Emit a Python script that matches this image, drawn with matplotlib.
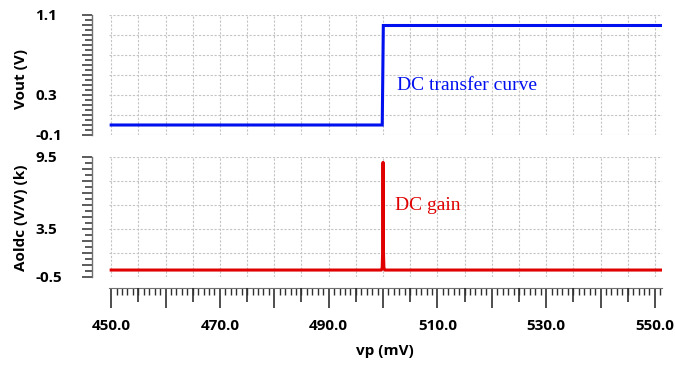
import numpy as np
import matplotlib
matplotlib.use("Agg")
import matplotlib.pyplot as plt
from matplotlib.ticker import FixedLocator, FixedFormatter, MultipleLocator, NullFormatter

# ---- data ----
vp_vout = [450.0, 499.85, 500.05, 551.3]
vout = [0.0, 0.0, 0.995, 0.995]

vp_gain = [450.0, 499.7, 499.85, 499.95, 500.0, 500.05, 500.15, 500.3, 551.3]
gain_k = [0.08, 0.08, 0.3, 2.0, 9.05, 2.0, 0.3, 0.08, 0.08]

x_tick_labels = ["450.0", "470.0", "490.0", "510.0", "530.0", "550.0"]
x_tick_vals = [450, 470, 490, 510, 530, 550]
top_ylabels = {-0.1: "-0.1", 0.3: "0.3", 1.1: "1.1"}
bot_ylabels = {-0.5: "-0.5", 3.5: "3.5", 9.5: "9.5"}

W, H = 675, 365
fig = plt.figure(figsize=(W / 100, H / 100), dpi=100)
px = 72 / 100  # points per pixel

def fx(x):
    return x / W

def fy(y):
    return 1 - y / H

left, right = 109, 662
ax1 = fig.add_axes([fx(left), fy(135), (right - left) / W, 120 / H])
ax2 = fig.add_axes([fx(left), fy(277), (right - left) / W, 120 / H])

xlim = (449.6, 551.3)
grid_kw = dict(color="#c4c4c4", lw=0.8, ls=(0, (2, 1.5)))
tick_font = dict(family="Open Sans", weight="bold", size=11)

def style_y(ax, ylim, major_step, minor_step, labels, ngrid):
    ax.set_xlim(*xlim)
    ax.set_ylim(*ylim)
    for s in ["top", "right", "bottom"]:
        ax.spines[s].set_visible(False)
    ax.spines["left"].set_position(("outward", 17 * px))
    ax.spines["left"].set_color("#707070")
    ax.spines["left"].set_linewidth(1.0)
    majors = list(np.round(np.arange(ylim[0], ylim[1] + 1e-9, major_step), 4))
    ax.yaxis.set_major_locator(FixedLocator(majors))
    lbls = []
    for m in majors:
        key = None
        for k in labels:
            if abs(k - m) < 1e-6:
                key = k
        lbls.append(labels[key] if key is not None else "")
    ax.yaxis.set_major_formatter(FixedFormatter(lbls))
    ax.yaxis.set_minor_locator(MultipleLocator(minor_step))
    ax.tick_params(axis="y", which="major", length=10 * px, width=1.2, color="#404040",
                   pad=(92 - 10 - 35) * px)
    ax.tick_params(axis="y", which="minor", length=7 * px, width=1.2, color="#404040")
    for t in ax.get_yticklabels():
        t.set_ha("left")
        t.set_fontfamily(tick_font["family"])
        t.set_fontweight(tick_font["weight"])
        t.set_fontsize(tick_font["size"])
    # grid
    for g in np.linspace(ylim[0], ylim[1], ngrid + 1):
        ax.axhline(g, zorder=0, **grid_kw)
    for v in np.arange(450, 551, 5):
        ax.axvline(v, zorder=0, **grid_kw)

style_y(ax1, (-0.1, 1.1), 0.1, 0.05, top_ylabels, 6)
style_y(ax2, (-0.5, 9.5), 1.0, 0.5, bot_ylabels, 5)

ax1.tick_params(axis="x", which="both", bottom=False, labelbottom=False)

# x axis strip on bottom axes
ax2.spines["bottom"].set_visible(True)
ax2.spines["bottom"].set_position(("outward", 11 * px))
ax2.spines["bottom"].set_color("#707070")
xl = []
for v in np.arange(450, 551, 10):
    xl.append(x_tick_labels[x_tick_vals.index(v)] if v in x_tick_vals else "")
ax2.xaxis.set_major_locator(FixedLocator(list(np.arange(450, 551, 10))))
ax2.xaxis.set_major_formatter(FixedFormatter(xl))
ax2.xaxis.set_minor_locator(MultipleLocator(1))
ax2.tick_params(axis="x", which="major", length=20 * px, width=1.2, color="#303030", pad=11 * px)
ax2.tick_params(axis="x", which="minor", length=7 * px, width=1.0, color="#303030")
for t in ax2.get_xticklabels():
    t.set_fontfamily(tick_font["family"])
    t.set_fontweight(tick_font["weight"])
    t.set_fontsize(tick_font["size"])

ax3 = ax2.twiny()
ax3.set_xlim(*xlim)
for s in ["top", "right", "left", "bottom"]:
    ax3.spines[s].set_visible(False)
ax3.xaxis.set_ticks_position("bottom")
ax3.spines["bottom"].set_position(("outward", 11 * px))
ax3.xaxis.set_major_locator(FixedLocator(list(np.arange(455, 551, 10))))
ax3.xaxis.set_major_formatter(NullFormatter())
ax3.tick_params(axis="x", which="major", length=14 * px, width=1.2, color="#303030")
ax3.tick_params(axis="x", which="minor", bottom=False, top=False)

# data lines
ax1.plot(vp_vout, vout, color="#0010ee", lw=2.2, solid_joinstyle="miter", zorder=3)
ax2.plot(vp_gain, gain_k, color="#e00000", lw=2.2, zorder=3)

def px_to_x(p):
    return xlim[0] + (p - left) / (right - left) * (xlim[1] - xlim[0])

ax1.text(px_to_x(397), 0.39, "DC transfer curve", color="#0010ee", family="Liberation Serif",
         fontsize=14, va="center", ha="left")
ax2.text(px_to_x(395), 5.45, "DC gain", color="#e00000", family="Liberation Serif",
         fontsize=14, va="center", ha="left")

fig.text(fx(21), fy(79), "Vout (V)", rotation=90, ha="center", va="center",
         family="Open Sans", weight="bold", fontsize=11)
fig.text(fx(21), fy(218), "Aoldc (V/V) (k)", rotation=90, ha="center", va="center",
         family="Open Sans", weight="bold", fontsize=11)
fig.text(fx(385), fy(351), "vp (mV)", ha="center", va="center",
         family="Open Sans", weight="bold", fontsize=11)

fig.savefig("out.png", dpi=100)
